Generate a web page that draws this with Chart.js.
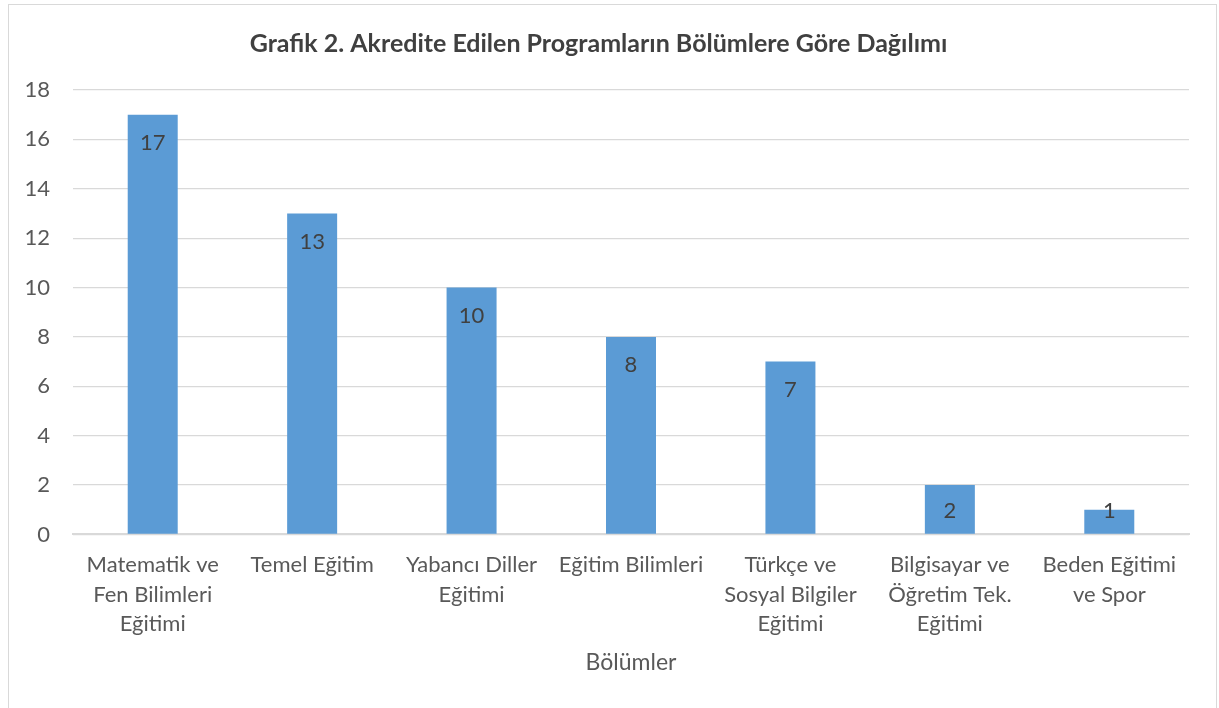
<!DOCTYPE html>
<html>
<head>
<meta charset="utf-8">
<script src="https://cdn.jsdelivr.net/npm/chart.js@4.4.1/dist/chart.umd.min.js"></script>
<style>
  body { margin: 0; background: #fff; }
  #wrap { position: absolute; left: 0; top: 0; width: 1219px; height: 708px; }
  #frame { position: absolute; left: 8px; top: 4px; width: 1207px; height: 720px; border: 1px solid #d9d9d9; pointer-events: none; }
</style>
</head>
<body>
<div id="wrap"><canvas id="myChart" width="1219" height="708"></canvas></div>
<div id="frame"></div>
<script>
// Bölümler ve program sayıları
const bolumler = [
  ["Matematik ve", "Fen Bilimleri", "Eğitimi"],
  "Temel Eğitim",
  ["Yabancı Diller", "Eğitimi"],
  "Eğitim Bilimleri",
  ["Türkçe ve", "Sosyal Bilgiler", "Eğitimi"],
  ["Bilgisayar ve", "Öğretim Tek.", "Eğitimi"],
  ["Beden Eğitimi", "ve Spor"]
];
const programSayisi = [17, 13, 10, 8, 7, 2, 1];
const yEksen = { min: 0, max: 18, step: 2 };

const baslik = "Grafik 2. Akredite Edilen Programların Bölümlere Göre Dağılımı";
const eksenBasligi = "Bölümler";

// etiketleri sütunların içine yaz (inside end)
const etiketPlugin = {
  id: "etiketler",
  afterDatasetsDraw(chart) {
    const ctx = chart.ctx;
    const meta = chart.getDatasetMeta(0);
    ctx.save();
    ctx.font = "22px Lato";
    ctx.fillStyle = "#404040";
    ctx.textAlign = "center";
    ctx.textBaseline = "middle";
    meta.data.forEach((bar, i) => {
      let y = Math.min(bar.y + 27, bar.base - 24);
      ctx.fillText(programSayisi[i], bar.x, y + 1);
    });
    ctx.restore();
  }
};

const ctx = document.getElementById("myChart");
const myChart = new Chart(ctx, {
  type: "bar",
  data: {
    labels: bolumler,
    datasets: [{
      data: programSayisi,
      backgroundColor: "#5b9bd5",
      borderWidth: 0,
      barPercentage: 0.3136,
      categoryPercentage: 1
    }]
  },
  options: {
    responsive: false,
    animation: false,
    layout: { padding: { left: 8, right: 30, top: 0, bottom: 37 } },
    plugins: {
      legend: { display: false },
      tooltip: { enabled: false },
      title: {
        display: true,
        text: baslik,
        color: "#404040",
        font: { family: "Lato", size: 25, weight: "bold" },
        padding: { top: 29, bottom: 31 }
      }
    },
    scales: {
      y: {
        min: yEksen.min,
        max: yEksen.max,
        ticks: { stepSize: yEksen.step, color: "#595959", font: { family: "Lato", size: 22 }, padding: 23 },
        grid: { color: "#d9d9d9", lineWidth: 1.3, drawTicks: false },
        border: { display: false },
        afterFit(s) { s.width = 65; }
      },
      x: {
        ticks: { color: "#595959", font: { family: "Lato", size: 22, lineHeight: 1.34 }, padding: 16, maxRotation: 0, autoSkip: false },
        grid: { display: false, drawTicks: false },
        border: { color: "#d9d9d9", width: 2 },
        title: {
          display: true,
          text: eksenBasligi,
          color: "#595959",
          font: { family: "Lato", size: 23, lineHeight: 0.7 },
          padding: { top: 0, bottom: 0 }
        }
      }
    }
  },
  plugins: [etiketPlugin]
});
</script>
</body>
</html>
